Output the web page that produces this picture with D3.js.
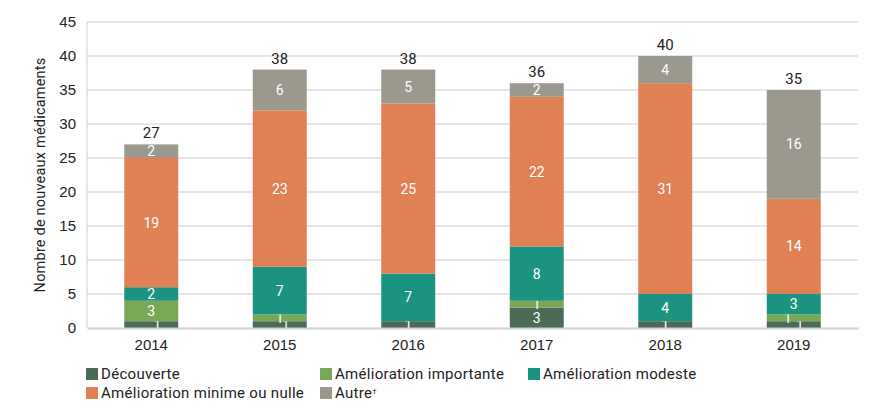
<!DOCTYPE html>
<html>
<head>
<meta charset="utf-8">
<script src="https://cdn.jsdelivr.net/npm/d3@7"></script>
<style>
  body { margin: 0; background: #fff; }
  svg { font-family: Roboto, "Noto Sans", sans-serif; }
</style>
</head>
<body>
<div class="chart"></div>
<script>
// data
const years = ['2014', '2015', '2016', '2017', '2018', '2019'];
const seriesNames = ['Découverte', 'Amélioration importante', 'Amélioration modeste', 'Amélioration minime ou nulle', 'Autre'];
const decouverte = [1, 1, 1, 3, 1, 1];
const importante = [3, 1, 0, 1, 0, 1];
const modeste = [2, 7, 7, 8, 4, 3];
const minime = [19, 23, 25, 22, 31, 14];
const autre = [2, 6, 5, 2, 4, 16];
const yTicks = [0, 5, 10, 15, 20, 25, 30, 35, 40, 45];

const colors = ['#4b6b57', '#78a856', '#1b9381', '#e08155', '#9b988e'];
const values = [decouverte, importante, modeste, minime, autre];

const margin = { top: 22, right: 12, bottom: 87, left: 87 };
const width = 870 - margin.left - margin.right;
const height = 415 - margin.top - margin.bottom;

const rows = years.map((yr, i) => {
  const row = { year: yr };
  seriesNames.forEach((s, k) => { row[s] = values[k][i]; });
  return row;
});
const stacked = d3.stack().keys(seriesNames)(rows);
const totals = years.map((yr, i) => d3.sum(values, v => v[i]));

const svg = d3.select('.chart')
  .append('svg')
  .attr('width', 870)
  .attr('height', 415);

const g = svg.append('g')
  .attr('transform', `translate(${margin.left},${margin.top})`);

const x = d3.scaleBand().domain(years).range([0, width]).paddingInner(0.58).paddingOuter(0.29);
const y = d3.scaleLinear().domain([0, 45]).range([height, 0]);

// grid lines
g.append('g')
  .selectAll('line')
  .data(yTicks.filter(t => t > 0))
  .enter()
  .append('line')
  .attr('x1', 0)
  .attr('x2', width)
  .attr('y1', d => y(d))
  .attr('y2', d => y(d))
  .attr('stroke', '#cfcfcf')
  .attr('stroke-width', 1);

// left axis line
g.append('line')
  .attr('x1', 0).attr('x2', 0)
  .attr('y1', 0).attr('y2', height)
  .attr('stroke', '#d0d0d0');

// y axis labels
const yAxis = g.append('g')
  .call(d3.axisLeft(y).tickValues(yTicks).tickSize(0).tickPadding(11));
yAxis.select('.domain').remove();
yAxis.selectAll('text')
  .attr('fill', '#222')
  .style('font-size', '15px');

// bars
const layers = g.selectAll('.layer')
  .data(stacked)
  .enter()
  .append('g')
  .attr('class', 'layer')
  .attr('fill', (d, i) => colors[i]);

layers.selectAll('rect')
  .data(d => d)
  .enter()
  .append('rect')
  .attr('x', d => x(d.data.year))
  .attr('width', x.bandwidth())
  .attr('y', d => y(d[1]))
  .attr('height', d => y(d[0]) - y(d[1]));

// segment values: thin segments squeezed under a short neighbour get nudged sideways
function nudge(d, k) {
  const i = years.indexOf(d.data.year);
  const v = d[1] - d[0];
  if (v > 1 || k > 1) return 0;
  const above = values[k + 1][i];
  if (above > 0 && above < 4) return k === 0 ? 6 : -6;
  return 0;
}
layers.each(function (layer, k) {
  d3.select(this).selectAll('text')
    .data(layer.filter(s => s[1] - s[0] > 0))
    .enter()
    .append('text')
    .attr('x', d => x(d.data.year) + x.bandwidth() / 2 + nudge(d, k))
    .attr('y', d => y((d[0] + d[1]) / 2))
    .attr('dy', '0.36em')
    .attr('text-anchor', 'middle')
    .attr('fill', '#fff')
    .style('font-size', '14px')
    .text(d => d[1] - d[0]);
});

// totals
g.append('g')
  .selectAll('text')
  .data(years)
  .enter()
  .append('text')
  .attr('x', d => x(d) + x.bandwidth() / 2)
  .attr('y', (d, i) => y(totals[i]) - 6)
  .attr('text-anchor', 'middle')
  .attr('fill', '#222')
  .style('font-size', '15px')
  .text((d, i) => totals[i]);

// bottom axis
const xAxis = g.append('g')
  .attr('transform', `translate(0,${height})`)
  .call(d3.axisBottom(x).tickSize(0).tickPadding(11));
xAxis.select('.domain').attr('stroke', '#cfcfcf').attr('stroke-width', 2);
xAxis.selectAll('text')
  .attr('fill', '#222')
  .style('font-size', '15px');

// y title
svg.append('text')
  .attr('transform', 'translate(45,175) rotate(-90)')
  .attr('text-anchor', 'middle')
  .attr('fill', '#222')
  .style('font-size', '14.5px')
  .style('letter-spacing', '0.2px')
  .text('Nombre de nouveaux médicaments');

// legend
const legendPos = [[86, 374], [320, 374], [528, 374], [86, 393], [320, 393]];
const legend = svg.append('g')
  .selectAll('g')
  .data(seriesNames)
  .enter()
  .append('g')
  .attr('transform', (d, i) => `translate(${legendPos[i][0]},${legendPos[i][1]})`);
legend.append('rect')
  .attr('x', 0).attr('y', -6)
  .attr('width', 12).attr('height', 12)
  .attr('fill', (d, i) => colors[i]);
const lt = legend.append('text')
  .attr('x', 15)
  .attr('dy', '0.36em')
  .attr('fill', '#222')
  .style('font-size', '15px')
  .style('letter-spacing', '0.3px')
  .text(d => d);
lt.filter(d => d === 'Autre')
  .append('tspan')
  .attr('dy', '-0.5em')
  .style('font-size', '8px')
  .text('†');
</script>
</body>
</html>
